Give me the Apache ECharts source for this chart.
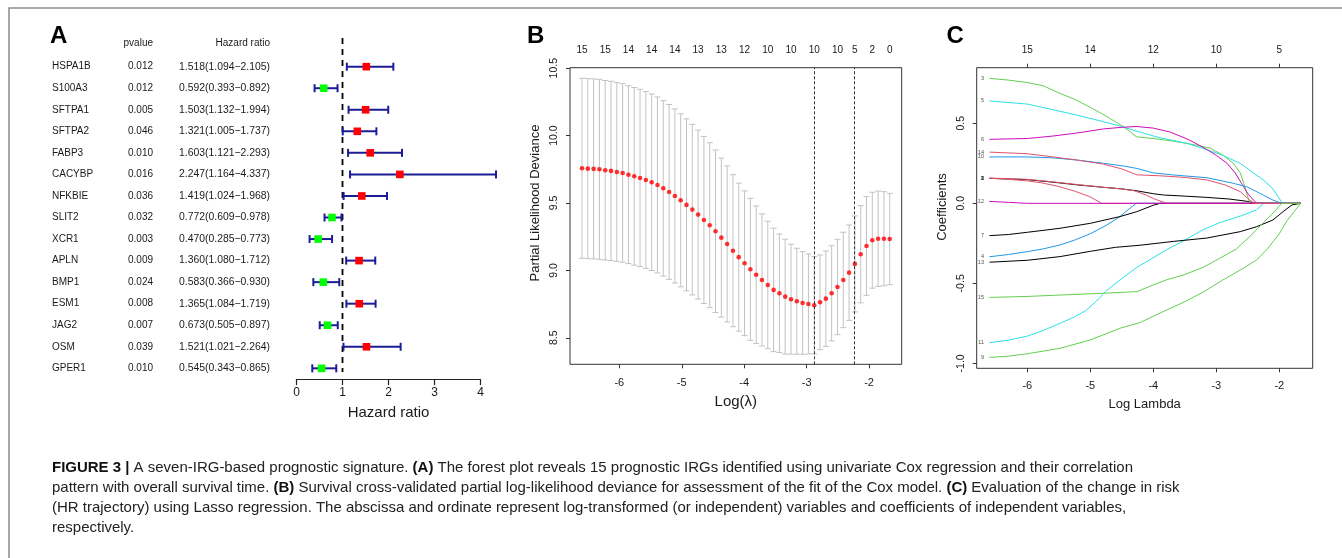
<!DOCTYPE html>
<html>
<head>
<meta charset="utf-8">
<script src="https://cdn.jsdelivr.net/npm/echarts@6/dist/echarts.min.js"></script>
<style>
  html, body { margin: 0; padding: 0; background: #fff; }
  #chart { width: 1342px; height: 558px; }
</style>
</head>
<body>
<div id="chart"></div>
<script>
// ---------- Panel A: univariate Cox regression, forest plot ----------
const genes = ['HSPA1B', 'S100A3', 'SFTPA1', 'SFTPA2', 'FABP3', 'CACYBP', 'NFKBIE', 'SLIT2',
  'XCR1', 'APLN', 'BMP1', 'ESM1', 'JAG2', 'OSM', 'GPER1'];
const pValues = [0.012, 0.012, 0.005, 0.046, 0.010, 0.016, 0.036, 0.032, 0.003, 0.009, 0.024, 0.008, 0.007, 0.039, 0.010];
const hazardRatio = [1.518, 0.592, 1.503, 1.321, 1.603, 2.247, 1.419, 0.772, 0.470, 1.360, 0.583, 1.365, 0.673, 1.521, 0.545];
const ciLower = [1.094, 0.393, 1.132, 1.005, 1.121, 1.164, 1.024, 0.609, 0.285, 1.080, 0.366, 1.084, 0.505, 1.021, 0.343];
const ciUpper = [2.105, 0.892, 1.994, 1.737, 2.293, 4.337, 1.968, 0.978, 0.773, 1.712, 0.930, 1.719, 0.897, 2.264, 0.865];
const hrTicks = [0, 1, 2, 3, 4];

// ---------- Panel B: cross-validated partial likelihood deviance ----------
const logLambda = [-6.598, -6.505, -6.412, -6.319, -6.226, -6.133, -6.040, -5.947, -5.854, -5.761,
  -5.668, -5.575, -5.482, -5.389, -5.296, -5.203, -5.110, -5.017, -4.924, -4.831,
  -4.738, -4.645, -4.552, -4.459, -4.366, -4.273, -4.180, -4.087, -3.994, -3.901,
  -3.808, -3.715, -3.622, -3.529, -3.436, -3.343, -3.250, -3.157, -3.064, -2.971,
  -2.878, -2.785, -2.692, -2.599, -2.506, -2.413, -2.320, -2.227, -2.134, -2.041,
  -1.948, -1.855, -1.762, -1.669];
const cvMean = [9.758, 9.755, 9.753, 9.750, 9.743, 9.738, 9.730, 9.723, 9.710, 9.698,
  9.686, 9.671, 9.654, 9.634, 9.609, 9.582, 9.552, 9.520, 9.486, 9.451,
  9.414, 9.374, 9.335, 9.290, 9.243, 9.196, 9.146, 9.098, 9.053, 9.008,
  8.968, 8.929, 8.892, 8.855, 8.830, 8.805, 8.786, 8.771, 8.758, 8.751,
  8.741, 8.763, 8.790, 8.830, 8.877, 8.929, 8.983, 9.048, 9.120, 9.181,
  9.224, 9.235, 9.235, 9.233];
const cvSd = [0.668, 0.668, 0.668, 0.668, 0.666, 0.665, 0.663, 0.662, 0.660, 0.659,
  0.658, 0.656, 0.655, 0.653, 0.651, 0.649, 0.646, 0.642, 0.638, 0.633,
  0.627, 0.620, 0.612, 0.603, 0.590, 0.579, 0.564, 0.549, 0.537, 0.527,
  0.510, 0.490, 0.473, 0.458, 0.440, 0.426, 0.408, 0.393, 0.381, 0.371,
  0.361, 0.351, 0.354, 0.353, 0.354, 0.354, 0.354, 0.356, 0.361, 0.366,
  0.356, 0.354, 0.349, 0.339];
const lambdaMin = -2.878;
const lambda1se = -2.227;
const nzeroAt = [-6.598, -6.226, -5.854, -5.482, -5.110, -4.738, -4.366, -3.994, -3.622, -3.250,
  -2.878, -2.506, -2.227, -1.948, -1.669];
const nzeroLabels = ['15', '15', '14', '14', '14', '13', '13', '12', '10', '10', '10', '10', '5', '2', '0'];
const lambdaTicks = [-6, -5, -4, -3, -2];
const devianceTicks = [8.5, 9.0, 9.5, 10.0, 10.5];

// ---------- Panel C: lasso coefficient paths ----------
const coefPath1 = [[-6.60, 0.156], [-6.0, 0.148], [-5.59, 0.132], [-5.2, 0.115], [-4.79, 0.10], [-4.5, 0.09], [-4.26, 0.078], [-4.0, 0.06], [-3.84, 0.052], [-3.5, 0.045], [-3.15, 0.037], [-2.8, 0.027], [-2.52, 0.013], [-2.36, 0], [-1.66, 0]];
const coefPath2 = [[-6.60, 0.157], [-6.3, 0.150], [-6.0, 0.140], [-5.77, 0.128], [-5.5, 0.105], [-5.24, 0.075], [-5.0, 0.04], [-4.82, 0], [-1.66, 0]];
const coefPath3 = [[-6.60, 0.781], [-6.3, 0.770], [-6.0, 0.755], [-5.75, 0.735], [-5.5, 0.69], [-5.25, 0.65], [-5.0, 0.60], [-4.75, 0.545], [-4.5, 0.485], [-4.38, 0.452], [-4.27, 0.416], [-4.0, 0.405], [-3.7, 0.39], [-3.4, 0.37], [-3.1, 0.345], [-2.89, 0.30], [-2.73, 0.25], [-2.62, 0.19], [-2.55, 0.11], [-2.50, 0.04], [-2.465, 0], [-1.66, 0]];
const coefPath4 = [[-6.60, -0.334], [-6.3, -0.32], [-6.0, -0.302], [-5.75, -0.285], [-5.48, -0.26], [-5.25, -0.23], [-5.0, -0.19], [-4.74, -0.136], [-4.53, -0.083], [-4.4, -0.04], [-4.27, 0], [-1.66, 0]];
const coefPath5 = [[-6.60, 0.64], [-6.0, 0.62], [-5.59, 0.585], [-5.2, 0.55], [-4.79, 0.51], [-4.5, 0.48], [-4.26, 0.45], [-3.9, 0.41], [-3.47, 0.375], [-3.15, 0.335], [-2.9, 0.30], [-2.62, 0.25], [-2.41, 0.19], [-2.25, 0.145], [-2.1, 0.09], [-1.95, 0], [-1.66, 0]];
const coefPath6 = [[-6.60, 0.40], [-6.0, 0.405], [-5.6, 0.42], [-5.2, 0.44], [-4.79, 0.465], [-4.5, 0.475], [-4.26, 0.48], [-4.0, 0.47], [-3.73, 0.445], [-3.45, 0.40], [-3.21, 0.35], [-3.0, 0.30], [-2.83, 0.25], [-2.7, 0.19], [-2.6, 0.125], [-2.5, 0.06], [-2.41, 0.02], [-2.36, 0], [-1.66, 0]];
const coefPath7 = [[-6.60, -0.202], [-6.3, -0.195], [-6.0, -0.181], [-5.48, -0.156], [-5.0, -0.125], [-4.53, -0.083], [-4.26, -0.052], [-4.0, -0.012], [-3.89, 0], [-1.66, 0]];
const coefPath8 = [[-6.60, 0.158], [-6.0, 0.150], [-5.59, 0.134], [-5.2, 0.117], [-4.79, 0.10], [-4.5, 0.09], [-4.3, 0.078], [-4.13, 0.054], [-4.0, 0.03], [-3.79, 0], [-1.66, 0]];
const coefPath9 = [[-6.60, -0.963], [-6.3, -0.955], [-6.0, -0.94], [-5.48, -0.906], [-5.0, -0.854], [-4.53, -0.781], [-4.21, -0.745], [-3.79, -0.667], [-3.5, -0.615], [-3.21, -0.555], [-2.9, -0.48], [-2.62, -0.417], [-2.36, -0.354], [-2.2, -0.29], [-2.0, -0.19], [-1.88, -0.11], [-1.78, -0.06], [-1.66, 0]];
const coefPath10 = [[-6.60, 0.29], [-6.0, 0.29], [-5.59, 0.284], [-5.2, 0.27], [-4.79, 0.25], [-4.5, 0.235], [-4.26, 0.218], [-4.0, 0.19], [-3.68, 0.177], [-3.15, 0.16], [-2.73, 0.125], [-2.52, 0.104], [-2.31, 0.063], [-2.1, 0.02], [-1.96, 0], [-1.66, 0]];
const coefPath11 = [[-6.60, -0.871], [-6.3, -0.855], [-6.0, -0.83], [-5.75, -0.795], [-5.48, -0.75], [-5.25, -0.71], [-5.06, -0.667], [-4.9, -0.61], [-4.74, -0.545], [-4.5, -0.47], [-4.26, -0.40], [-4.13, -0.37], [-3.79, -0.29], [-3.5, -0.23], [-3.21, -0.165], [-2.94, -0.12], [-2.62, -0.08], [-2.45, -0.055], [-2.36, -0.04], [-2.25, 0], [-1.66, 0]];
const coefPath12 = [[-6.60, 0.012], [-6.3, 0.006], [-6.0, 0], [-1.66, 0]];
const coefPath13 = [[-6.60, -0.368], [-6.0, -0.356], [-5.48, -0.333], [-5.0, -0.30], [-4.6, -0.275], [-4.21, -0.262], [-3.68, -0.238], [-3.15, -0.217], [-2.62, -0.177], [-2.36, -0.146], [-2.1, -0.104], [-1.94, -0.052], [-1.8, -0.01], [-1.77, 0], [-1.66, 0]];
const coefPath14 = [[-6.60, 0.32], [-6.0, 0.31], [-5.59, 0.29], [-5.2, 0.27], [-4.79, 0.245], [-4.5, 0.215], [-4.26, 0.178], [-3.9, 0.172], [-3.5, 0.162], [-3.15, 0.146], [-2.86, 0.115], [-2.62, 0.073], [-2.47, 0.02], [-2.39, 0], [-1.66, 0]];
const coefPath15 = [[-6.60, -0.588], [-6.0, -0.582], [-5.59, -0.575], [-4.79, -0.562], [-4.26, -0.552], [-4.0, -0.51], [-3.79, -0.478], [-3.5, -0.445], [-3.21, -0.40], [-2.95, -0.345], [-2.68, -0.285], [-2.45, -0.20], [-2.25, -0.12], [-2.1, -0.06], [-1.96, 0], [-1.66, 0]];
const dfAtTicks = ['15', '14', '12', '10', '5'];
const coefTicks = [-1.0, -0.5, 0.0, 0.5];

// ---------- Caption ----------
const captionLines = [
  '{b|FIGURE 3 |} A seven-IRG-based prognostic signature. {b|(A)} The forest plot reveals 15 prognostic IRGs identified using univariate Cox regression and their correlation',
  'pattern with overall survival time. {b|(B)} Survival cross-validated partial log-likelihood deviance for assessment of the fit of the Cox model. {b|(C)} Evaluation of the change in risk',
  '(HR trajectory) using Lasso regression. The abscissa and ordinate represent log-transformed (or independent) variables and coefficients of independent variables,',
  'respectively.'
];

const coefPaths = [coefPath1, coefPath2, coefPath3, coefPath4, coefPath5, coefPath6, coefPath7, coefPath8,
  coefPath9, coefPath10, coefPath11, coefPath12, coefPath13, coefPath14, coefPath15];
const pathPalette = ['#000000', '#DF536B', '#61D04F', '#2297E6', '#28E2E5', '#CD0BBC'];

const FONT = '"Liberation Sans", Arial, Helvetica, sans-serif';
const INK = '#1a1a1a';

// caption is set in a condensed face: regular sans, horizontally compressed
const CAPTION_SIZE = 14.5;
const CAPTION_LEFT = 52;
const CAPTION_FIRST_LINE_RIGHT = 1133;
function captionWidth(line, size) {
  const ctx = document.createElement('canvas').getContext('2d');
  const re = /\{b\|([^}]*)\}|([^{]+)/g;
  let w = 0, m;
  while ((m = re.exec(line))) {
    if (m[1] !== undefined) {
      ctx.font = 'bold ' + size + 'px ' + FONT;
      w += ctx.measureText(m[1]).width;
    } else {
      ctx.font = size + 'px ' + FONT;
      w += ctx.measureText(m[2]).width;
    }
  }
  return w;
}
const captionScale = (CAPTION_FIRST_LINE_RIGHT - CAPTION_LEFT) / captionWidth(captionLines[0], CAPTION_SIZE);

const chart = echarts.init(document.getElementById('chart'), null, { renderer: 'canvas' });

// forest row: CI whisker with caps, square at the point estimate
function renderForestRow(params, api) {
  const row = api.value(3);
  const pHr = api.coord([api.value(0), row]);
  const pLo = api.coord([api.value(1), row]);
  const pHi = api.coord([api.value(2), row]);
  const y = pHr[1];
  const cap = 4;
  const half = 3.8;
  const navy = '#1c1c96';
  const ls = { stroke: navy, lineWidth: 2 };
  return {
    type: 'group',
    children: [
      { type: 'line', shape: { x1: pLo[0], y1: y, x2: pHi[0], y2: y }, style: ls },
      { type: 'line', shape: { x1: pLo[0], y1: y - cap, x2: pLo[0], y2: y + cap }, style: ls },
      { type: 'line', shape: { x1: pHi[0], y1: y - cap, x2: pHi[0], y2: y + cap }, style: ls },
      { type: 'rect', shape: { x: pHr[0] - half, y: y - half, width: half * 2, height: half * 2 },
        style: { fill: api.value(0) > 1 ? '#ff0000' : '#00ff00' } }
    ]
  };
}

// reference line at HR = 1
function renderNullLine(params, api) {
  const x = api.coord([api.value(0), 0])[0];
  const cs = params.coordSys;
  return {
    type: 'line',
    shape: { x1: x, y1: cs.y - 18, x2: x, y2: cs.y + cs.height - 7 },
    style: { stroke: '#000', lineWidth: 1.8, lineDash: [6, 5] }
  };
}

// mean +/- 1 sd error bar for each lambda
function renderErrorBar(params, api) {
  const x = api.value(0);
  const pLo = api.coord([x, api.value(1)]);
  const pHi = api.coord([x, api.value(2)]);
  const w = 3;
  const ls = { stroke: '#c2c2c2', lineWidth: 1 };
  return {
    type: 'group',
    children: [
      { type: 'line', shape: { x1: pLo[0], y1: pLo[1], x2: pHi[0], y2: pHi[1] }, style: ls },
      { type: 'line', shape: { x1: pHi[0] - w, y1: pHi[1], x2: pHi[0] + w, y2: pHi[1] }, style: ls },
      { type: 'line', shape: { x1: pLo[0] - w, y1: pLo[1], x2: pLo[0] + w, y2: pLo[1] }, style: ls }
    ]
  };
}

function nearestLabel(v, positions, labels) {
  let best = 0;
  for (let i = 1; i < positions.length; i++) {
    if (Math.abs(positions[i] - v) < Math.abs(positions[best] - v)) best = i;
  }
  return labels[best];
}

const tickLine = { color: '#333', width: 1 };
const noSplit = { show: false };

const option = {
  animation: false,
  backgroundColor: '#fff',
  textStyle: { fontFamily: FONT, color: INK },
  grid: [
    { left: 296.5, top: 55.9, width: 184, height: 323.2, show: false },
    { left: 570, top: 67.7, width: 331.7, height: 296.6, show: true, borderColor: '#333', borderWidth: 1, backgroundColor: 'transparent' },
    { left: 976.7, top: 67.7, width: 336, height: 300.6, show: true, borderColor: '#333', borderWidth: 1, backgroundColor: 'transparent' }
  ],
  xAxis: [
    { // A: hazard ratio
      gridIndex: 0, type: 'value', position: 'bottom', min: 0, max: 4, interval: 1,
      axisLine: { show: true, onZero: false, lineStyle: { color: '#222', width: 1.2 } },
      axisTick: { show: true, length: 6, customValues: hrTicks, lineStyle: { color: '#222', width: 1.2 } },
      axisLabel: { customValues: hrTicks, fontSize: 12, color: INK, margin: 8 },
      splitLine: noSplit,
      name: 'Hazard ratio', nameLocation: 'middle', nameGap: 26,
      nameTextStyle: { fontSize: 15, color: INK }
    },
    { // B: log(lambda), bottom
      gridIndex: 1, type: 'value', position: 'bottom', min: -6.79, max: -1.477,
      axisLine: { show: false, onZero: false },
      axisTick: { show: true, length: 4, customValues: lambdaTicks, lineStyle: tickLine },
      axisLabel: { customValues: lambdaTicks, fontSize: 11, color: INK, margin: 13 },
      splitLine: noSplit,
      name: 'Log(\u03bb)', nameLocation: 'middle', nameGap: 30,
      nameTextStyle: { fontSize: 15, color: INK }
    },
    { // B: number of non-zero coefficients, top
      gridIndex: 1, type: 'value', position: 'top', min: -6.79, max: -1.477,
      axisLine: { show: false, onZero: false },
      axisTick: { show: false },
      axisLabel: { customValues: nzeroAt, fontSize: 10, color: INK, margin: 12.5,
        formatter: v => nearestLabel(v, nzeroAt, nzeroLabels) },
      splitLine: noSplit
    },
    { // C: log lambda, bottom
      gridIndex: 2, type: 'value', position: 'bottom', min: -6.803, max: -1.47,
      axisLine: { show: false, onZero: false },
      axisTick: { show: true, length: 4, customValues: lambdaTicks, lineStyle: tickLine },
      axisLabel: { customValues: lambdaTicks, fontSize: 11, color: INK, margin: 12 },
      splitLine: noSplit,
      name: 'Log Lambda', nameLocation: 'middle', nameGap: 30,
      nameTextStyle: { fontSize: 13, color: INK }
    },
    { // C: degrees of freedom, top
      gridIndex: 2, type: 'value', position: 'top', min: -6.803, max: -1.47,
      axisLine: { show: false, onZero: false },
      axisTick: { show: true, length: 4, customValues: lambdaTicks, lineStyle: tickLine },
      axisLabel: { customValues: lambdaTicks, fontSize: 10, color: INK, margin: 12.5,
        formatter: v => nearestLabel(v, lambdaTicks, dfAtTicks) },
      splitLine: noSplit
    }
  ],
  yAxis: [
    { // A: gene names
      gridIndex: 0, type: 'category', data: genes, inverse: true, position: 'left',
      axisLine: { show: false, onZero: false }, axisTick: { show: false },
      axisLabel: { interval: 0, align: 'left', margin: 244.5, fontSize: 10, color: INK }
    },
    { // A: p values
      gridIndex: 0, type: 'category', data: genes, inverse: true, position: 'left',
      axisLine: { show: false, onZero: false }, axisTick: { show: false },
      axisLabel: { interval: 0, align: 'right', margin: 143.5, fontSize: 10, color: INK,
        formatter: (v, i) => pValues[i].toFixed(3) }
    },
    { // A: HR (95% CI) text
      gridIndex: 0, type: 'category', data: genes, inverse: true, position: 'left',
      axisLine: { show: false, onZero: false }, axisTick: { show: false },
      axisLabel: { interval: 0, align: 'right', margin: 26.5, fontSize: 10.4, color: INK,
        formatter: (v, i) => hazardRatio[i].toFixed(3) + '(' + ciLower[i].toFixed(3) + '\u2212' + ciUpper[i].toFixed(3) + ')' }
    },
    { // B: deviance
      gridIndex: 1, type: 'value', position: 'left', min: 8.303, max: 10.504,
      axisLine: { show: false, onZero: false },
      axisTick: { show: true, length: 4, customValues: devianceTicks, lineStyle: tickLine },
      axisLabel: { customValues: devianceTicks, rotate: 90, fontSize: 10.5, color: INK, margin: 10,
        formatter: v => v.toFixed(1) },
      splitLine: noSplit
    },
    { // C: coefficients
      gridIndex: 2, type: 'value', position: 'left', min: -1.031, max: 0.8475,
      axisLine: { show: false, onZero: false },
      axisTick: { show: true, length: 4, customValues: coefTicks, lineStyle: tickLine },
      axisLabel: { customValues: coefTicks, rotate: 90, fontSize: 10.5, color: INK, margin: 10,
        formatter: v => v.toFixed(1) },
      splitLine: noSplit
    }
  ],
  series: [
    {
      type: 'custom', name: 'null line', xAxisIndex: 0, yAxisIndex: 0, clip: false, silent: true,
      data: [[1, 0]], encode: { x: 0, y: 1 }, renderItem: renderNullLine, z: 2
    },
    {
      type: 'custom', name: 'hazard ratio', xAxisIndex: 0, yAxisIndex: 0, clip: false,
      data: genes.map((g, i) => [hazardRatio[i], ciLower[i], ciUpper[i], i]),
      encode: { x: [0, 1, 2], y: 3 }, renderItem: renderForestRow, z: 3
    },
    {
      type: 'custom', name: 'cv sd', xAxisIndex: 1, yAxisIndex: 3,
      data: logLambda.map((x, i) => [x, cvMean[i] - cvSd[i], cvMean[i] + cvSd[i]]),
      encode: { x: 0, y: [1, 2] }, renderItem: renderErrorBar, z: 2
    },
    {
      type: 'scatter', name: 'cv mean', xAxisIndex: 1, yAxisIndex: 3,
      data: logLambda.map((x, i) => [x, cvMean[i]]),
      symbol: 'circle', symbolSize: 4.6, itemStyle: { color: '#ff0000' }, z: 4,
      markLine: {
        silent: true, symbol: ['none', 'none'], label: { show: false },
        lineStyle: { color: '#333', width: 1, type: [3, 2] },
        data: [{ xAxis: lambdaMin }, { xAxis: lambda1se }]
      }
    },
    ...coefPaths.map((path, k) => ({
      type: 'line', name: String(k + 1), xAxisIndex: 3, yAxisIndex: 4,
      data: path, showSymbol: false, symbol: 'none', smooth: false,
      lineStyle: { color: pathPalette[k % 6], width: 1 }, z: 3
    })),
    {
      type: 'scatter', name: 'path labels', xAxisIndex: 3, yAxisIndex: 4,
      data: coefPaths.map((path, k) => ({ name: String(k + 1), value: path[0] })),
      symbolSize: 1, itemStyle: { color: 'rgba(0,0,0,0)' },
      label: { show: true, position: 'left', distance: 5, formatter: '{b}', fontSize: 5.5, color: '#222' },
      z: 5
    }
  ],
  graphic: [
    { type: 'rect', silent: true, shape: { x: 9, y: 8, width: 1400, height: 600 },
      style: { fill: 'none', stroke: '#8c8c8c', lineWidth: 1.5 } },
    { type: 'text', silent: true, x: 50, y: 36, style: { text: 'A', font: 'bold 24px ' + FONT, fill: '#000', textVerticalAlign: 'middle' } },
    { type: 'text', silent: true, x: 527, y: 36, style: { text: 'B', font: 'bold 24px ' + FONT, fill: '#000', textVerticalAlign: 'middle' } },
    { type: 'text', silent: true, x: 946.5, y: 36, style: { text: 'C', font: 'bold 24px ' + FONT, fill: '#000', textVerticalAlign: 'middle' } },
    { type: 'text', silent: true, x: 153, y: 43.5, style: { text: 'pvalue', font: '10px ' + FONT, fill: INK, textAlign: 'right', textVerticalAlign: 'middle' } },
    { type: 'text', silent: true, x: 270, y: 43.5, style: { text: 'Hazard ratio', font: '10px ' + FONT, fill: INK, textAlign: 'right', textVerticalAlign: 'middle' } },
    { type: 'text', silent: true, x: 535, y: 203, rotation: Math.PI / 2,
      style: { text: 'Partial Likelihood Deviance', font: '13px ' + FONT, fill: INK, textAlign: 'center', textVerticalAlign: 'middle' } },
    { type: 'text', silent: true, x: 942.5, y: 207, rotation: Math.PI / 2,
      style: { text: 'Coefficients', font: '13px ' + FONT, fill: INK, textAlign: 'center', textVerticalAlign: 'middle' } },
    ...captionLines.map((line, i) => ({
      type: 'text', silent: true, x: CAPTION_LEFT, y: 467.5 + i * 20,
      scaleX: captionScale, scaleY: 1,
      style: {
        text: line, font: CAPTION_SIZE + 'px ' + FONT, fill: '#222', textVerticalAlign: 'middle',
        rich: { b: { fontWeight: 'bold', fontSize: CAPTION_SIZE, fontFamily: FONT, fill: '#111' } }
      }
    }))
  ]
};

chart.setOption(option);
</script>
</body>
</html>
